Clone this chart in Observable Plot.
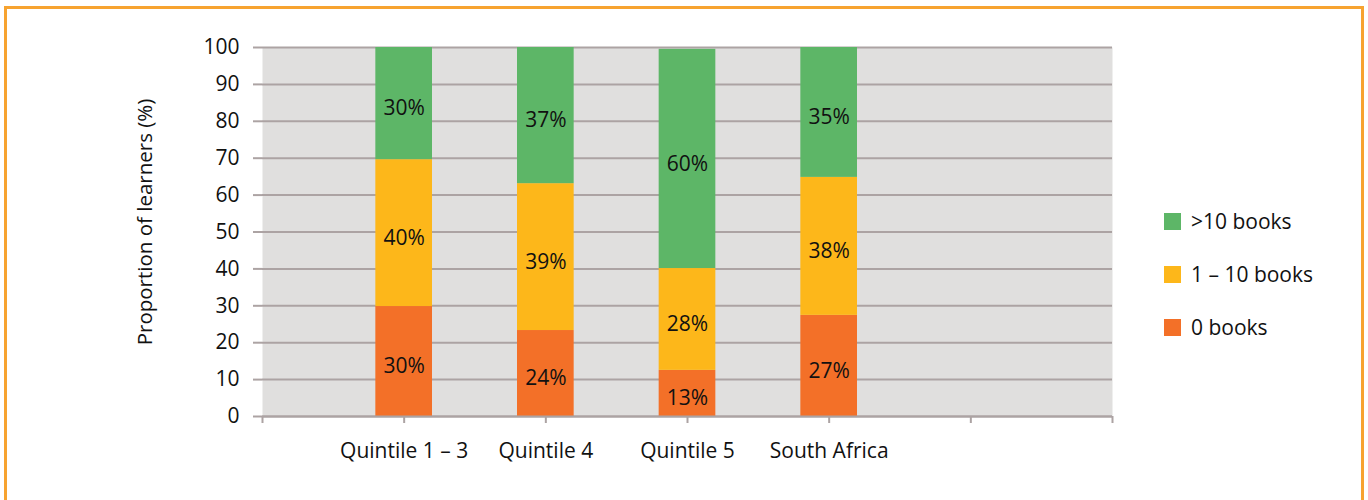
<!DOCTYPE html>
<html>
<head>
<meta charset="utf-8">
<script src="https://cdn.jsdelivr.net/npm/d3@7"></script>
<script src="https://cdn.jsdelivr.net/npm/@observablehq/plot@0.6"></script>
<style>
  html, body { margin: 0; padding: 0; background: #fff; overflow: hidden; }
  body { width: 1368px; height: 500px; position: relative; font-family: "Open Sans", "Noto Sans", sans-serif; }
  #frame { position: absolute; left: 4px; top: 6px; width: 1360px; height: 520px; border: 3px solid #f7a330; box-sizing: border-box; }
  #chart { position: absolute; left: 0; top: 0; }
  #legend { position: absolute; left: 1164px; top: 0; font-size: 21px; color: #111; }
  .item { position: absolute; left: 0; display: flex; align-items: center; white-space: nowrap; }
  .sw { width: 17px; height: 17px; margin-right: 10px; }
</style>
</head>
<body>
<div id="frame"></div>
<div id="chart"></div>
<div id="legend"></div>
<script>
// Data
const categories = ["Quintile 1 – 3", "Quintile 4", "Quintile 5", "South Africa"];
const series = ["0 books", "1 – 10 books", ">10 books"];
const zeroBooks = [29.8, 23.3, 12.5, 27.4];
const oneToTen = [39.8, 39.8, 27.6, 37.4];
const moreThanTen = [30.4, 36.9, 59.4, 35.2];
const zeroLabels = ["30%", "24%", "13%", "27%"];
const oneToTenLabels = ["40%", "39%", "28%", "38%"];
const moreThanTenLabels = ["30%", "37%", "60%", "35%"];
const colors = ["#f37028", "#fdb71a", "#5db667"];
const yTicks = [0, 10, 20, 30, 40, 50, 60, 70, 80, 90, 100];
const xSlots = ["", ...categories, "", ""]; // category slots along the axis

// Build stacked table
const valuesBySeries = [zeroBooks, oneToTen, moreThanTen];
const labelsBySeries = [zeroLabels, oneToTenLabels, moreThanTenLabels];
const rows = [];
categories.forEach((c, i) => {
  let base = 0;
  series.forEach((s, k) => {
    const v = valuesBySeries[k][i];
    rows.push({pos: i + 1, series: s, y1: base, y2: base + v, label: labelsBySeries[k][i]});
    base += v;
  });
});

const gridColor = "#aca3a3";
const bw = 0.2;

const chart = Plot.plot({
  width: 1368,
  height: 500,
  marginLeft: 262,
  marginRight: 256,
  marginTop: 47,
  marginBottom: 84,
  style: {fontFamily: "'Open Sans', 'Noto Sans', sans-serif", fontSize: "21px", color: "#111", background: "transparent"},
  x: {domain: [0, xSlots.length - 1]},
  y: {domain: [0, 100]},
  color: {domain: series, range: colors},
  marks: [
    Plot.frame({fill: "#e0dfde", stroke: null}),
    Plot.gridY(yTicks, {stroke: gridColor, strokeWidth: 2, strokeOpacity: 1}),
    Plot.axisY(yTicks, {tickSize: 9, tickPadding: 14, stroke: gridColor, strokeWidth: 2, fontSize: 21,
      label: null}),
    Plot.rect(rows, {x1: d => d.pos - bw, x2: d => d.pos + bw, y1: "y1", y2: "y2", fill: "series"}),
    Plot.text(rows, {x: "pos", y: d => (d.y1 + d.y2) / 2, text: "label", fontSize: 21, fill: "#111", dy: 5}),
    Plot.ruleY([0], {stroke: gridColor, strokeWidth: 2}),
    Plot.axisX(d3.range(xSlots.length), {tickSize: 7, tickPadding: 20, stroke: gridColor, strokeWidth: 2,
      tickFormat: i => xSlots[i], fontSize: 21, label: null})
  ]
});
document.getElementById("chart").appendChild(chart);

// Y axis title
const svgNS = "http://www.w3.org/2000/svg";
const t = document.createElementNS(svgNS, "text");
t.setAttribute("transform", "translate(152,222) rotate(-90)");
t.setAttribute("text-anchor", "middle");
t.setAttribute("font-size", "20.5");
t.setAttribute("fill", "#111");
t.textContent = "Proportion of learners (%)";
chart.appendChild(t);

// Legend
const legend = document.getElementById("legend");
const legendOrder = [2, 1, 0];
const rowY = [221, 274, 327];
legendOrder.forEach((k, r) => {
  const it = document.createElement("div");
  it.className = "item";
  it.style.top = (rowY[r] - 14) + "px";
  it.style.height = "28px";
  const sw = document.createElement("div");
  sw.className = "sw";
  sw.style.background = colors[k];
  const tx = document.createElement("span");
  tx.textContent = series[k];
  it.appendChild(sw);
  it.appendChild(tx);
  legend.appendChild(it);
});
</script>
</body>
</html>
